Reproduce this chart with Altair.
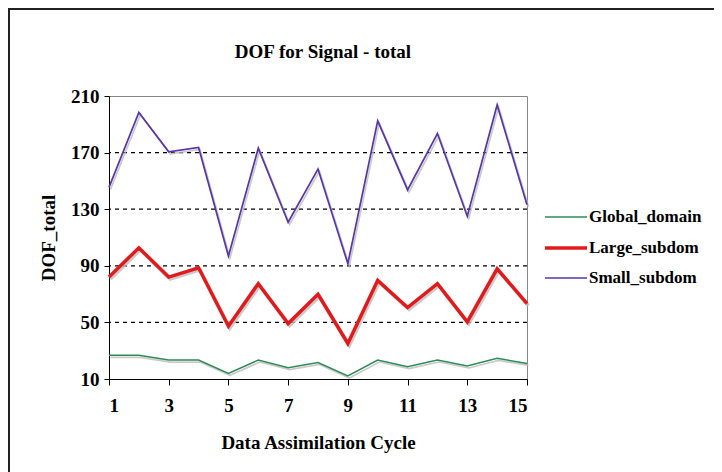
import altair as alt
import pandas as pd

cycles = list(range(1, 16))
global_domain = [26.7, 26.7, 23.4, 23.4, 14.0, 23.4, 18.0, 21.7, 12.1, 23.4, 18.7, 23.4, 19.2, 24.6, 21.0]
large_subdom = [82.1, 102.7, 82.0, 88.6, 47.3, 77.4, 49.2, 69.9, 35.1, 79.7, 60.5, 77.4, 50.4, 87.9, 63.3]
small_subdom = [145.4, 198.3, 170.6, 173.6, 96.9, 173.1, 120.8, 158.4, 91.5, 192.4, 143.6, 183.5, 125.0, 203.7, 133.2]
series = ["Global_domain", "Large_subdom", "Small_subdom"]
colors = ["#2e8b57", "#e31a1c", "#5a35a8"]
widths = [1.5, 3.5, 1.7]
y_ticks = [10, 50, 90, 130, 170, 210]
x_ticks = [1, 3, 5, 7, 9, 11, 13, 15]
grid_values = [50, 90, 130, 170]

rows = []
for name, vals in zip(series, [global_domain, large_subdom, small_subdom]):
    for c, v in zip(cycles, vals):
        rows.append({"cycle": c, "value": v, "series": name})
df = pd.DataFrame(rows)
grid_df = pd.DataFrame({"value": grid_values})

FONT = "Liberation Serif"

x_enc = alt.X("cycle:Q",
              scale=alt.Scale(domain=[1, 15], nice=False, zero=False),
              axis=alt.Axis(values=x_ticks, title="Data Assimilation Cycle", grid=False,
                            tickSize=6, labelPadding=11, titlePadding=18,
                            domainColor="#000", tickColor="#000"))
y_enc = alt.Y("value:Q",
              scale=alt.Scale(domain=[10, 210], nice=False, zero=False),
              axis=alt.Axis(values=y_ticks, title="DOF_total", grid=False,
                            tickSize=5, labelPadding=5, titlePadding=12,
                            domainColor="#000", tickColor="#000"))

grid = alt.Chart(grid_df).mark_rule(color="#000", strokeDash=[4, 4], strokeWidth=1.2).encode(
    y=y_enc
)

shadow = alt.Chart(df).mark_line(color="#bdbdbd", xOffset=1.5, yOffset=2, opacity=0.8).encode(
    x=x_enc, y=y_enc, detail="series:N",
    strokeWidth=alt.condition("datum.series == 'Large_subdom'", alt.value(3.5), alt.value(1.7)),
)

legend = alt.Legend(orient="none", legendX=434, legendY=99)

lines = alt.Chart(df).mark_line().encode(
    x=x_enc, y=y_enc,
    color=alt.Color("series:N", scale=alt.Scale(domain=series, range=colors), legend=legend),
    strokeWidth=alt.StrokeWidth("series:N",
                                scale=alt.Scale(type="ordinal", domain=series, range=widths),
                                legend=legend),
)

title = alt.Chart(pd.DataFrame({"t": ["DOF for Signal - total"]})).mark_text(
    font=FONT, fontSize=19, fontWeight="bold", baseline="alphabetic", align="center", color="#000"
).encode(x=alt.value(214), y=alt.value(-38), text="t:N")

frame_left = alt.Chart(pd.DataFrame({"a": [0]})).mark_rule(color="#222", strokeWidth=2).encode(
    x=alt.value(-100), y=alt.value(-87), y2=alt.value(400))
frame_top = alt.Chart(pd.DataFrame({"a": [0]})).mark_rule(color="#222", strokeWidth=2).encode(
    x=alt.value(-101), x2=alt.value(620), y=alt.value(-87))

chart = alt.layer(grid, shadow, lines, title, frame_left, frame_top).properties(
    width=418, height=283,
    autosize=alt.AutoSizeParams(type="none"),
    padding={"left": 101, "top": 88, "right": 187, "bottom": 93},
    background="white",
).configure_view(stroke="#888", strokeWidth=1).configure_axis(
    labelFont=FONT, labelFontSize=19, labelFontWeight="bold", labelColor="#000",
    titleFont=FONT, titleFontSize=19, titleFontWeight="bold", titleColor="#000",
).configure_legend(
    title=None, symbolType="stroke", symbolSize=1764,
    labelFont=FONT, labelFontSize=17, labelFontWeight="bold",
    labelColor="#000", rowPadding=-5, labelOffset=0,
)

chart.save("out.html", embed_options={"renderer": "svg", "actions": False})
